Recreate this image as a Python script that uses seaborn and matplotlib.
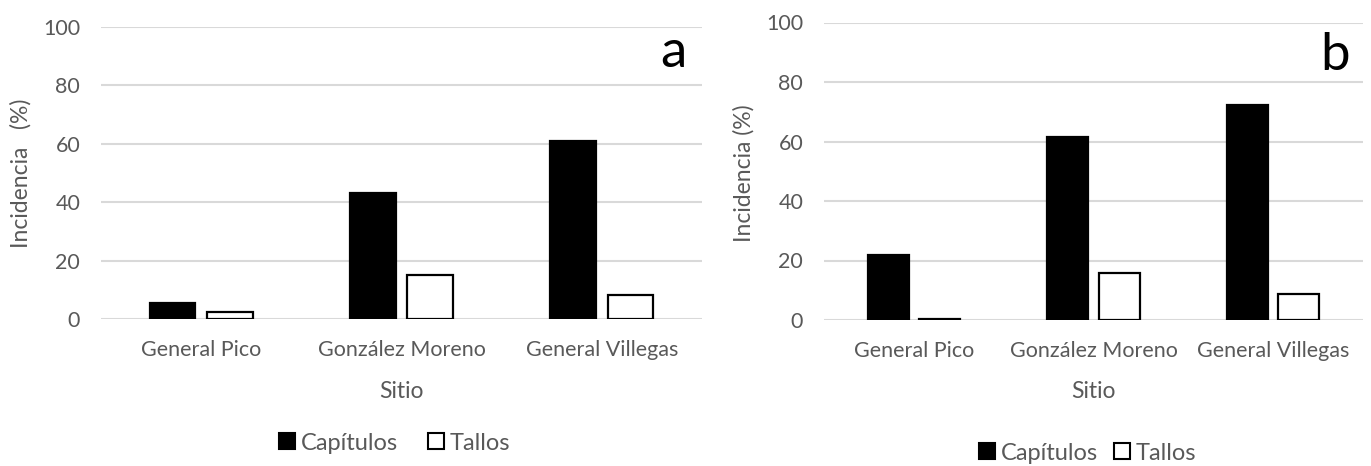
import pandas as pd
import matplotlib.pyplot as plt
import seaborn as sns
from matplotlib.lines import Line2D

# datos
sitios = ["General Pico", "González Moreno", "General Villegas"]
capitulos_a = [5.7, 43.3, 60.8]
tallos_a = [2.4, 15.2, 8.2]
capitulos_b = [21.7, 61.6, 72.2]
tallos_b = [0.3, 15.9, 8.7]
organos = ["Capítulos", "Tallos"]
y_ticks = [0, 20, 40, 60, 80, 100]

sns.set_style("white")
plt.rcParams['font.family'] = ['Lato', 'DejaVu Sans']

gris = "#595959"
colores = {"Capítulos": "black", "Tallos": "white"}

W, H = 1371, 466
fig = plt.figure(figsize=(W / 100, H / 100), dpi=100)


def armar_df(cap, tal):
    return pd.DataFrame({
        "Sitio": sitios * 2,
        "Organo": ["Capítulos"] * 3 + ["Tallos"] * 3,
        "Incidencia": cap + tal,
    })


def panel(x0, x1, y_top, y_zero, df, ylabel, letra, letra_xy, lab_x):
    ax = fig.add_axes([x0 / W, 1 - y_zero / H, (x1 - x0) / W, (y_zero - y_top) / H])
    sns.barplot(data=df, x="Sitio", y="Incidencia", hue="Organo", order=sitios,
                hue_order=organos, palette=colores, width=0.57, gap=0.2,
                edgecolor="black", linewidth=1.6, legend=False, ax=ax)
    ax.set_ylim(0, 100)
    ax.set_xlim(-0.5, 2.5)
    ax.set_yticks(y_ticks)
    ax.yaxis.grid(True, color="#d9d9d9", linewidth=1.5)
    ax.set_axisbelow(True)
    for s in ax.spines.values():
        s.set_visible(False)
    ax.tick_params(axis="y", length=0, pad=15, labelsize=15.5, labelcolor=gris)
    ax.tick_params(axis="x", length=0, pad=15, labelsize=15.5, labelcolor=gris)
    ax.set_xlabel("Sitio", fontsize=16.5, color=gris, va="center")
    ax.xaxis.set_label_coords(0.5, -(392 - y_zero) / (y_zero - y_top))
    ax.set_ylabel(ylabel, fontsize=16.5, color=gris, va="center")
    ax.yaxis.set_label_coords((lab_x - x0) / (x1 - x0), (y_zero - 173) / (y_zero - y_top))
    fig.text(letra_xy[0] / W, 1 - letra_xy[1] / H, letra, fontsize=38,
             ha="center", va="baseline", color="black")
    return ax


ax_a = panel(101, 702, 26.8, 319.3, armar_df(capitulos_a, tallos_a),
             "Incidencia   (%)", "a", (673, 67), 21)
ax_b = panel(824, 1363, 22.5, 320, armar_df(capitulos_b, tallos_b),
             "Incidencia (%)", "b", (1335, 70), 744)

handles = [Line2D([], [], marker="s", linestyle="", markersize=11,
                  markerfacecolor=colores[o], markeredgecolor="black",
                  markeredgewidth=1.5) for o in organos]

fig.legend(handles, organos, loc="center", bbox_to_anchor=(394 / W, 1 - 443 / H),
           ncol=2, frameon=False, fontsize=17, labelcolor=gris,
           handletextpad=0.2, columnspacing=1.2, handlelength=0.8)
fig.legend(handles, organos, loc="center", bbox_to_anchor=(1087 / W, 1 - 453 / H),
           ncol=2, frameon=False, fontsize=17, labelcolor=gris,
           handletextpad=0.2, columnspacing=0.6, handlelength=0.8)

fig.savefig("out.png", dpi=100)
